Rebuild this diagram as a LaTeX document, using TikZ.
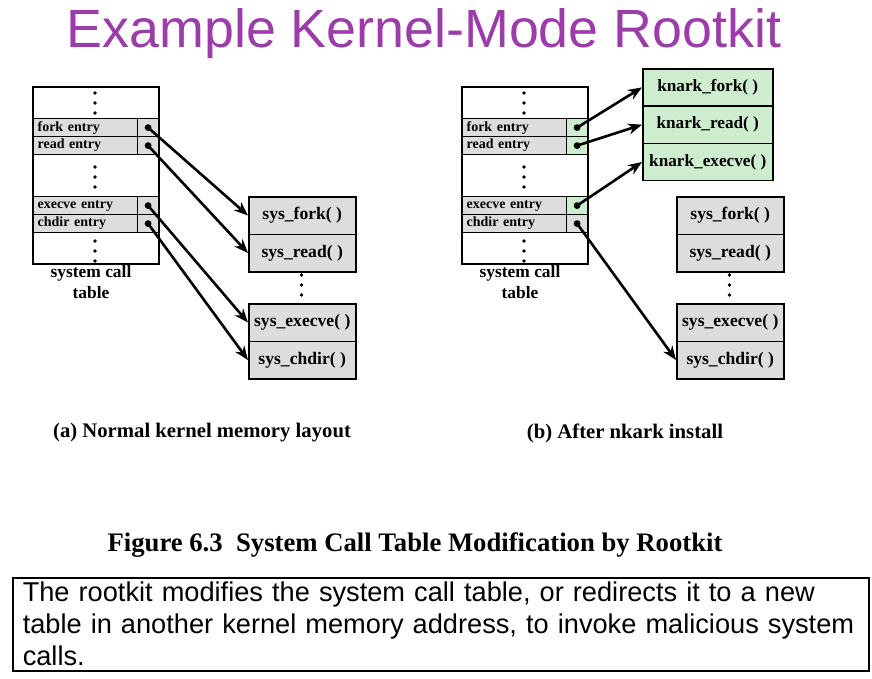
\documentclass[tikz,border=0pt]{standalone}
\usepackage{fontspec}
\setmainfont{Liberation Serif}
\newfontfamily\arialfont{Liberation Sans}
\usepackage{tikz}
\usetikzlibrary{arrows.meta}
\definecolor{titlepurple}{RGB}{155,60,170}
\definecolor{cellgray}{RGB}{221,221,221}
\definecolor{cellgreen}{RGB}{206,236,206}
\tikzstyle{tabbox} = [draw, line width=2pt, minimum width=126pt,
   minimum height=177pt, inner sep=0pt, anchor=north west]
\tikzstyle{entry} = [draw, line width=1.2pt, fill=cellgray, minimum width=105pt,
   minimum height=18pt, inner xsep=5pt, inner ysep=0pt, text width=95pt,
   align=left, anchor=north west, font=\fontsize{14}{14}\selectfont\bfseries]
\tikzstyle{ptr} = [draw, line width=1.2pt, fill=cellgray, minimum width=21pt,
   minimum height=18pt, inner sep=0pt, anchor=north west]
\tikzstyle{func} = [draw, line width=1.5pt, fill=cellgray, minimum width=107pt,
   minimum height=37.5pt, inner sep=0pt, anchor=north west,
   font=\fontsize{17.6}{19}\selectfont\bfseries]
\tikzstyle{knark} = [func, fill=cellgreen, minimum width=130pt, minimum height=37.3pt,
   font=\fontsize{17.2}{19}\selectfont\bfseries]
\tikzstyle{tablabel} = [align=center, font=\fontsize{17.4}{21}\selectfont\bfseries]
\tikzstyle{caption} = [font=\fontsize{20.7}{22}\selectfont\bfseries]
\tikzstyle{ptrArrow} = [line width=2.6pt, -{Stealth[length=14pt,width=11pt]}]
\newcommand{\vdotsat}[2]{\foreach \dy in {0,10,20} \fill (#1,#2+\dy) circle (1.8pt);}

\begin{document}
\begin{tikzpicture}[x=1pt,y=-1pt]
    \useasboundingbox (0,0) rectangle (872,678);
    \node[font=\arialfont\fontsize{53.8}{56}\selectfont, text=titlepurple, anchor=base]
       (title) at (424,47) {Example Kernel-Mode Rootkit};
    % (a) normal layout
    \node[entry] (lfork) at (32,118) {fork entry};
    \node[entry] (lread) at (32,136) {read entry};
    \node[entry] (lexec) at (32,196) {execve entry};
    \node[entry] (lchdir) at (32,214) {chdir entry};
    \node[ptr] (lforkp) at (137,118) {};
    \node[ptr] (lreadp) at (137,136) {};
    \node[ptr] (lexecp) at (137,196) {};
    \node[ptr] (lchdirp) at (137,214) {};
    \node[tabbox] (ltab) at (32,86) {};
    \vdotsat{95}{93}
    \vdotsat{95}{167}
    \vdotsat{95}{241}
    \node[tablabel] (ltablabel) at (91,282) {system call\\table};
    \node[func] (lsfork) at (248,196) {sys\_fork( )};
    \node[func] (lsread) at (248,233.5) {sys\_read( )};
    \node[func] (lsexec) at (248,303) {sys\_execve( )};
    \node[func] (lschdir) at (248,340.5) {sys\_chdir( )};
    \vdotsat{301.5}{275}
    \node[caption] (capa) at (202,433) {(a) Normal kernel memory layout};
    % (b) after install
    \node[entry] (rfork) at (461,118) {fork entry};
    \node[entry] (rread) at (461,136) {read entry};
    \node[entry] (rexec) at (461,196) {execve entry};
    \node[entry] (rchdir) at (461,214) {chdir entry};
    \node[ptr, fill=cellgreen] (rforkp) at (566,118) {};
    \node[ptr, fill=cellgreen] (rreadp) at (566,136) {};
    \node[ptr, fill=cellgreen] (rexecp) at (566,196) {};
    \node[ptr] (rchdirp) at (566,214) {};
    \node[tabbox] (rtab) at (461,86) {};
    \vdotsat{524}{93}
    \vdotsat{524}{167}
    \vdotsat{524}{241}
    \node[tablabel] (rtablabel) at (520,282) {system call\\table};
    \node[knark] (kfork) at (642,68) {knark\_fork( )};
    \node[knark] (kread) at (642,105.3) {knark\_read( )};
    \node[knark] (kexec) at (642,142.6) {knark\_execve( )};
    \node[func] (rsfork) at (676,196) {sys\_fork( )};
    \node[func] (rsread) at (676,233.5) {sys\_read( )};
    \node[func] (rsexec) at (676,303) {sys\_execve( )};
    \node[func] (rschdir) at (676,340.5) {sys\_chdir( )};
    \vdotsat{729.5}{275}
    \node[caption] (capb) at (625,433) {(b) After nkark install};
    % pointers
    \foreach \p in {lforkp,lreadp,lexecp,lchdirp,rforkp,rreadp,rexecp,rchdirp}
       \fill (\p.center) circle (3.4pt);
    \draw [ptrArrow] (lforkp.center) -- (lsfork.west);
    \draw [ptrArrow] (lreadp.center) -- (lsread.west);
    \draw [ptrArrow] (lexecp.center) -- (lsexec.west);
    \draw [ptrArrow] (lchdirp.center) -- (lschdir.west);
    \draw [ptrArrow] (rforkp.center) -- (kfork.west);
    \draw [ptrArrow] (rreadp.center) -- (kread.west);
    \draw [ptrArrow] (rexecp.center) -- (kexec.west);
    \draw [ptrArrow] (rchdirp.center) -- (rschdir.west);
    \node[font=\fontsize{26.7}{28}\selectfont\bfseries] (figcap) at (415,545)
       {Figure 6.3\ \ System Call Table Modification by Rootkit};
    \node[draw, line width=1.5pt, anchor=north west, minimum width=850pt,
       minimum height=93pt, inner xsep=10pt, inner ysep=3pt, text width=836pt,
       align=left, font=\arialfont\fontsize{27.2}{32}\selectfont] (note) at (12,577)
       {\hyphenpenalty=10000\relax
        The rootkit modifies the system call table, or redirects it to a new
        table in another kernel memory address, to invoke malicious system
        calls.};
  \end{tikzpicture}
\end{document}
